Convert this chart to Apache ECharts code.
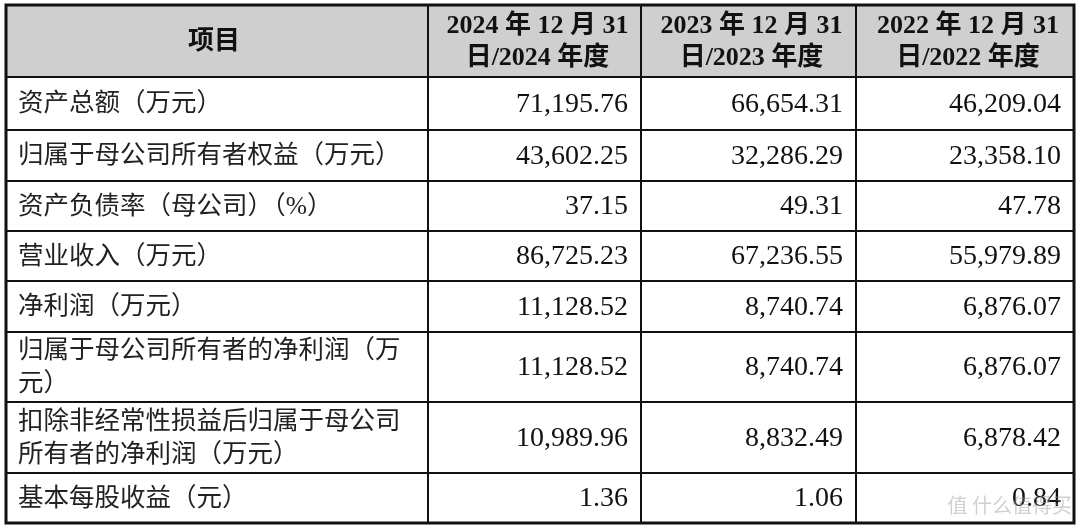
<!DOCTYPE html>
<html>
<head>
<meta charset="UTF-8">
<script src="https://cdn.jsdelivr.net/npm/echarts@6/dist/echarts.min.js"></script>
<style>html,body{margin:0;background:#fff}</style>
</head>
<body>
<div id="main" style="width:1080px;height:529px;"></div>
<script>
// 表格数据
var headers = ['项目', '2024 年 12 月 31\n日/2024 年度', '2023 年 12 月 31\n日/2023 年度', '2022 年 12 月 31\n日/2022 年度'];
var items = ['资产总额（万元）', '归属于母公司所有者权益（万元）', '资产负债率（母公司）（%）', '营业收入（万元）',
    '净利润（万元）', '归属于母公司所有者的净利润（万\n元）', '扣除非经常性损益后归属于母公司\n所有者的净利润（万元）', '基本每股收益（元）'];
var y2024 = ['71,195.76', '43,602.25', '37.15', '86,725.23', '11,128.52', '11,128.52', '10,989.96', '1.36'];
var y2023 = ['66,654.31', '32,286.29', '49.31', '67,236.55', '8,740.74', '8,740.74', '8,832.49', '1.06'];
var y2022 = ['46,209.04', '23,358.10', '47.78', '55,979.89', '6,876.07', '6,876.07', '6,878.42', '0.84'];

var colX = [6, 428, 641, 856, 1074];
var rowY = [5, 77, 130, 181, 231, 281, 332, 402, 473, 523];
var serif = '"Liberation Serif", "Noto Sans CJK SC", serif';

var g = [];
g.push({type: 'rect', shape: {x: colX[0], y: rowY[0], width: colX[4] - colX[0], height: rowY[1] - rowY[0]}, style: {fill: '#cfcfcf'}});
headers.forEach(function (h, c) {
    g.push({type: 'text', style: {text: h, x: (colX[c] + colX[c + 1]) / 2 + (c ? 3 : -3), y: (rowY[0] + rowY[1]) / 2 + 1,
        align: 'center', verticalAlign: 'middle', font: 'bold 26px ' + serif, lineHeight: 32, fill: '#111'}});
});
items.forEach(function (name, r) {
    var cy = (rowY[r + 1] + rowY[r + 2]) / 2 + 1;
    g.push({type: 'text', style: {text: name, x: colX[0] + 12, y: cy, align: 'left', verticalAlign: 'middle',
        font: '25.5px ' + serif, lineHeight: 33, fill: '#222'}});
    [y2024, y2023, y2022].forEach(function (arr, c) {
        g.push({type: 'text', style: {text: arr[r], x: colX[c + 2] - 13, y: cy, align: 'right', verticalAlign: 'middle',
            font: '28px ' + serif, fill: '#111'}});
    });
});
for (var i = 1; i < rowY.length - 1; i++) {
    g.push({type: 'line', shape: {x1: colX[0], y1: rowY[i], x2: colX[4], y2: rowY[i]}, style: {stroke: '#111', lineWidth: 2}});
}
for (var j = 1; j < colX.length - 1; j++) {
    g.push({type: 'line', shape: {x1: colX[j], y1: rowY[0], x2: colX[j], y2: rowY[rowY.length - 1]}, style: {stroke: '#111', lineWidth: 2}});
}
g.push({type: 'rect', shape: {x: colX[0], y: rowY[0], width: colX[4] - colX[0], height: rowY[rowY.length - 1] - rowY[0]},
    style: {fill: 'none', stroke: '#111', lineWidth: 3}});
g.push({type: 'text', style: {text: '值 什么值得买', x: 1072, y: 505, align: 'right', verticalAlign: 'middle',
    font: '20px "Noto Sans CJK SC"', fill: 'rgba(150,150,150,0.45)'}});

var myChart = echarts.init(document.getElementById('main'));
myChart.setOption({backgroundColor: '#fff', animation: false, graphic: g});
</script>
</body>
</html>
